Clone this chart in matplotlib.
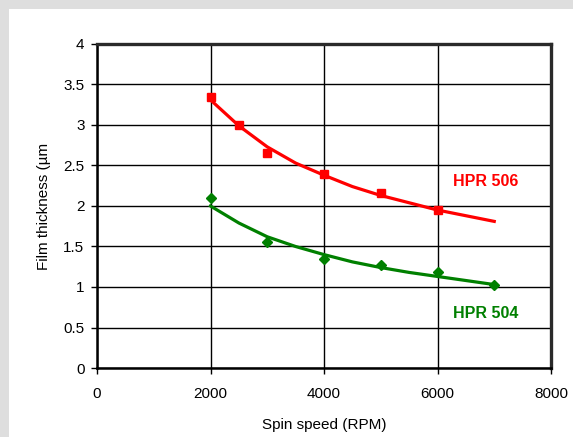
import matplotlib
matplotlib.use('Agg')
import matplotlib.pyplot as plt
from matplotlib.patches import Rectangle

plt.rcParams['font.family'] = ['Liberation Sans', 'DejaVu Sans']

# measured points
speed_506 = [2000, 2500, 3000, 4000, 5000, 6000]
thick_506 = [3.34, 3.00, 2.66, 2.40, 2.16, 1.95]
speed_504 = [2000, 3000, 4000, 5000, 6000, 7000]
thick_504 = [2.10, 1.55, 1.35, 1.27, 1.19, 1.02]

# trend lines
trend_speed = [2000, 2500, 3000, 3500, 4000, 4500, 5000, 5500, 6000, 6500, 7000]
trend_506 = [3.31, 2.99, 2.73, 2.53, 2.38, 2.24, 2.13, 2.04, 1.95, 1.88, 1.81]
trend_504 = [2.00, 1.79, 1.62, 1.50, 1.40, 1.31, 1.24, 1.18, 1.13, 1.08, 1.03]

x_ticks = [0, 2000, 4000, 6000, 8000]
y_ticks = [0, 0.5, 1, 1.5, 2, 2.5, 3, 3.5, 4]
y_tick_labels = ['0', '0.5', '1', '1.5', '2', '2.5', '3', '3.5', '4']

RED = '#ff0000'
GREEN = '#008000'

fig = plt.figure(figsize=(5.73, 4.37), dpi=100, facecolor='#dedede')
# white panel, grey strip on top and left
fig.patches.append(Rectangle((9/573, 0), 1, 428/437, transform=fig.transFigure,
                             facecolor='white', edgecolor='none', zorder=-5))

ax = fig.add_axes([97/573, 69/437, 454/573, 324/437])
ax.set_zorder(2)
ax.set_facecolor('white')

ax.plot(trend_speed, trend_506, color=RED, lw=2.3, zorder=3)
ax.plot(trend_speed, trend_504, color=GREEN, lw=2.3, zorder=3)
ax.plot(speed_506, thick_506, 's', color=RED, ms=6.3, zorder=4)
ax.plot(speed_504, thick_504, 'D', color=GREEN, ms=5.5, zorder=4)

ax.text(6850, 2.30, 'HPR 506', color=RED, fontsize=11.5, fontweight='bold',
        ha='center', va='center')
ax.text(6850, 0.67, 'HPR 504', color=GREEN, fontsize=11.5, fontweight='bold',
        ha='center', va='center')

ax.set_xlim(0, 8000)
ax.set_ylim(0, 4)
ax.set_xticks(x_ticks)
ax.set_yticks(y_ticks)
ax.set_yticklabels(y_tick_labels)
ax.grid(True, color='black', lw=1.0)
ax.set_axisbelow(True)

ax.tick_params(direction='out', length=4, width=1, labelsize=11, color='black')
ax.tick_params(axis='x', pad=10)
ax.tick_params(axis='y', pad=5)

for side in ['left', 'bottom']:
    ax.spines[side].set_linewidth(1.8)
    ax.spines[side].set_color('black')
for side in ['top', 'right']:
    ax.spines[side].set_linewidth(2.4)
    ax.spines[side].set_color('#2a2a2a')

ax.set_xlabel('Spin speed (RPM)', fontsize=11, labelpad=12)
ax.set_ylabel('Film thickness (µm', fontsize=11, labelpad=9)

fig.savefig('out.png', dpi=100, facecolor=fig.get_facecolor())
